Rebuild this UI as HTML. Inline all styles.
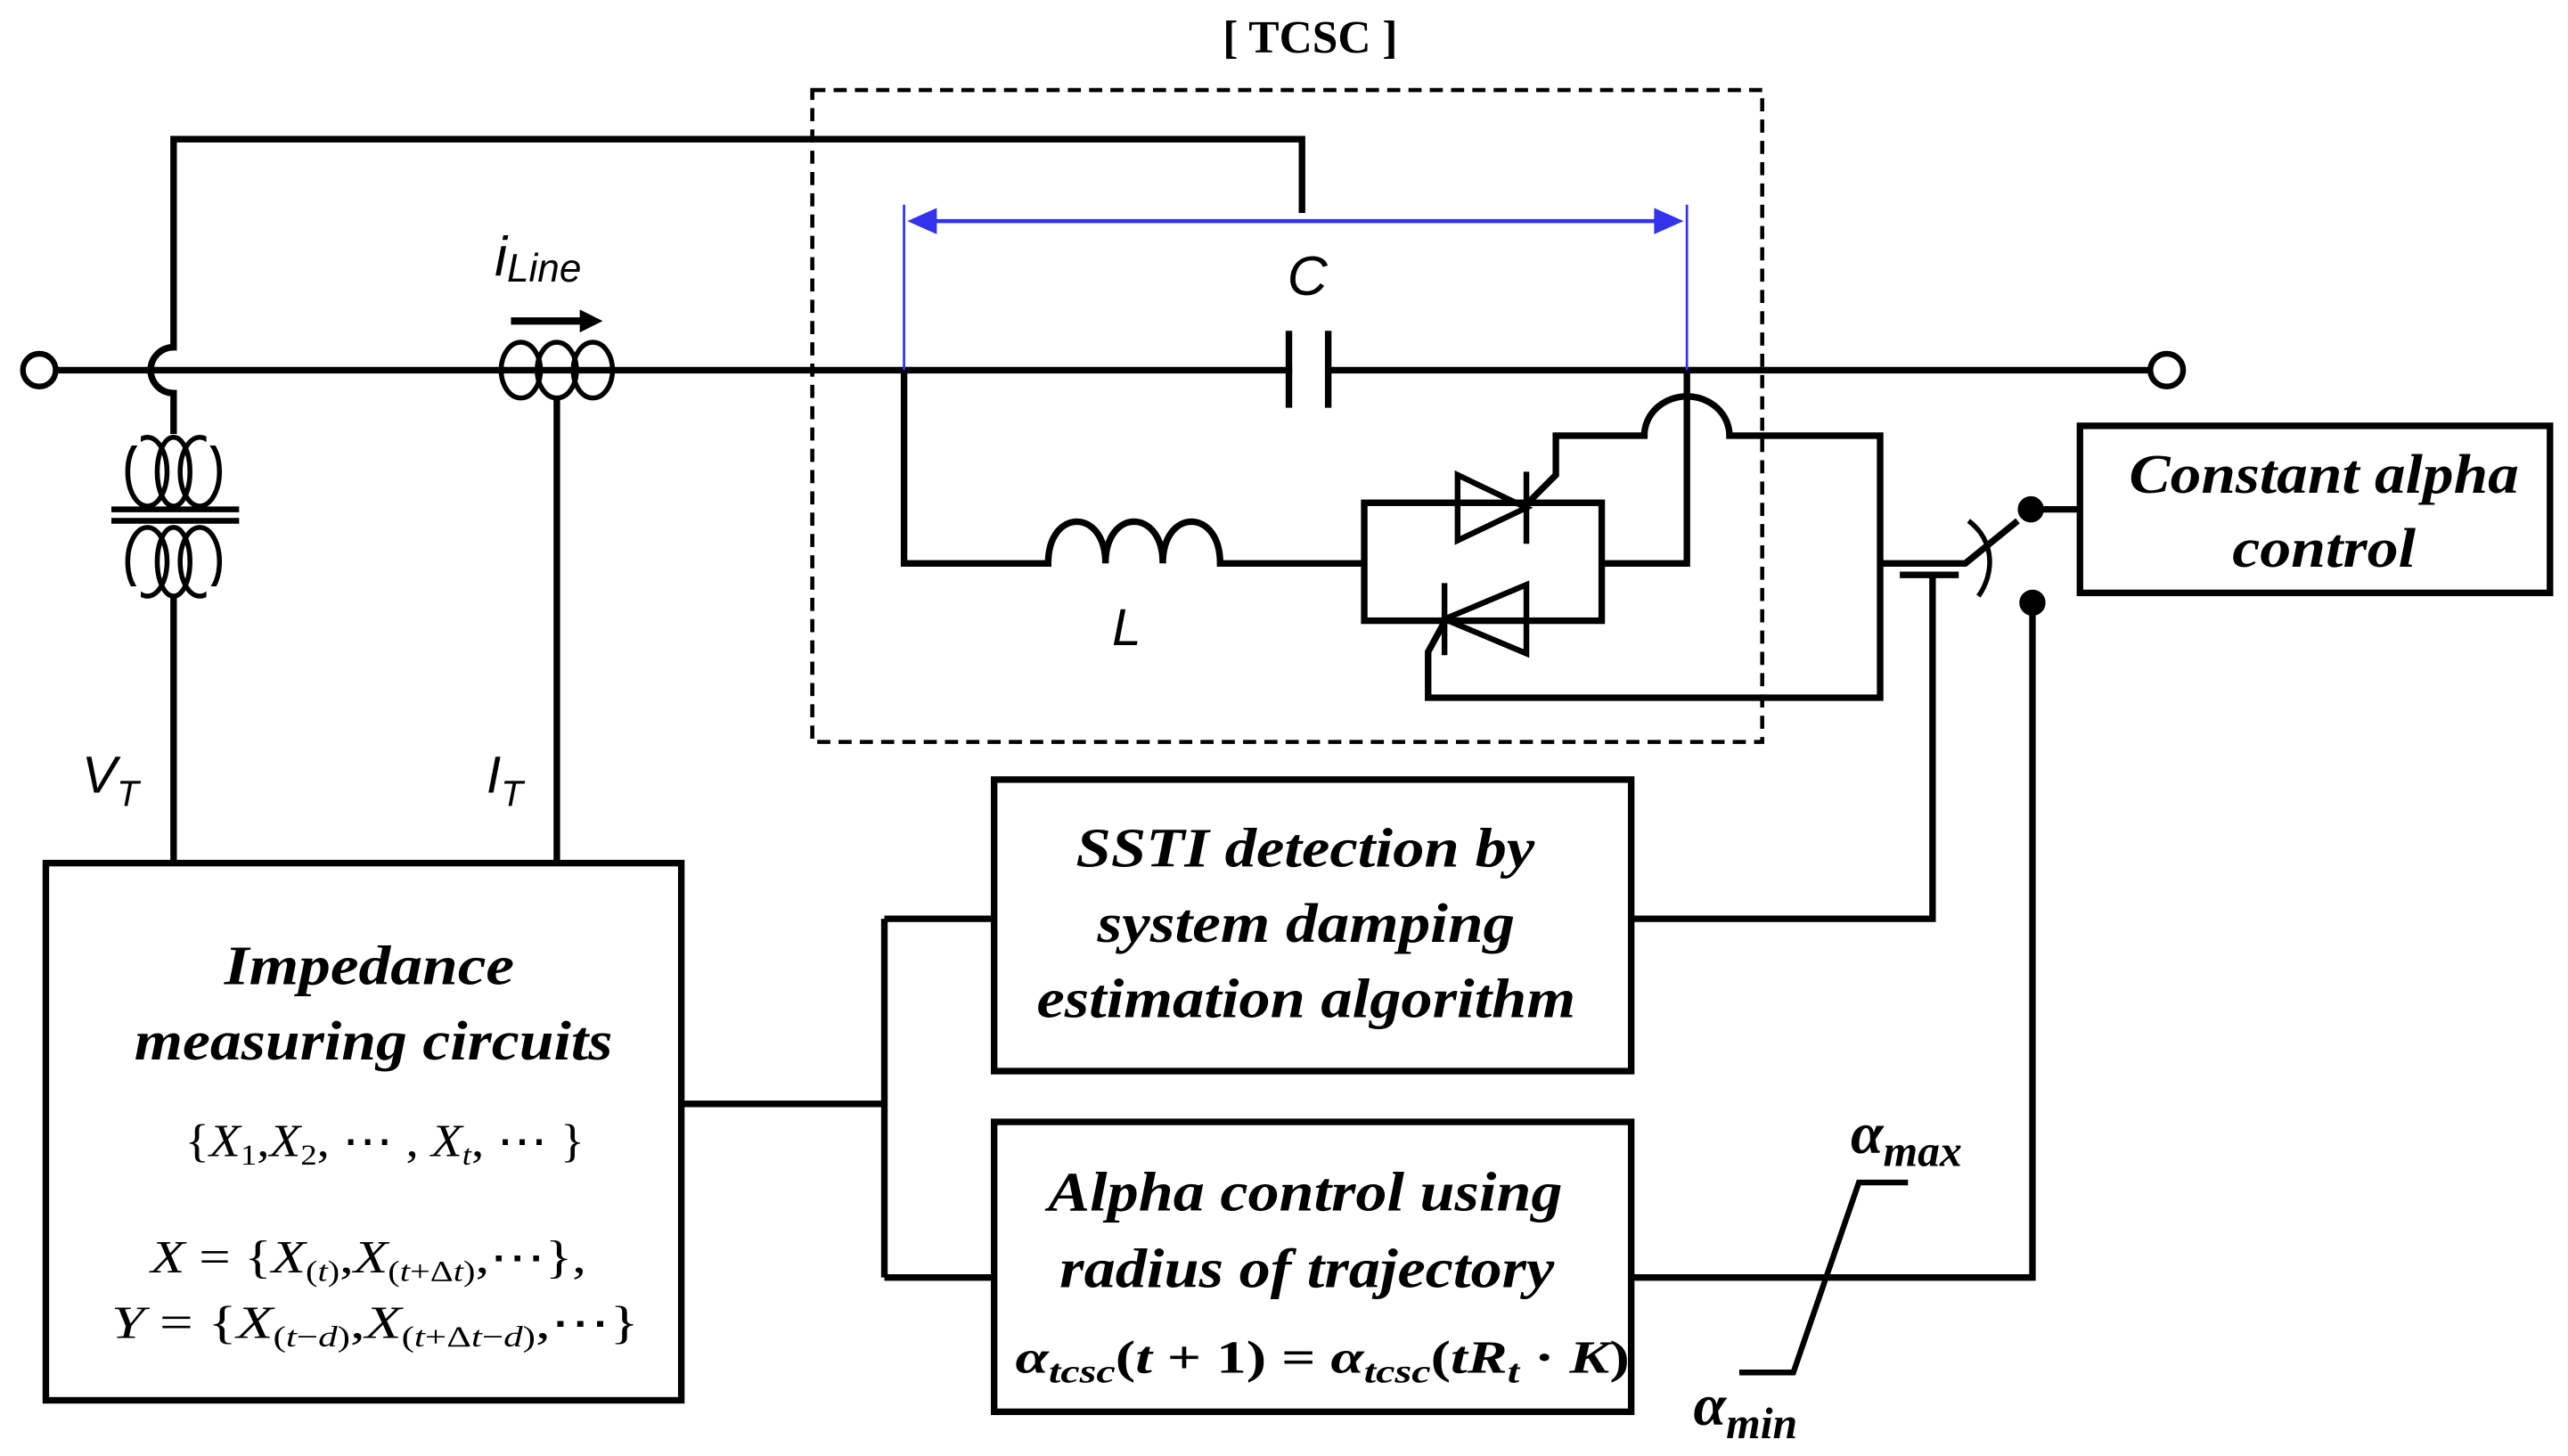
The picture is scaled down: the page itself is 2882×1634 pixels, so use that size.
<!DOCTYPE html>
<html><head><meta charset="utf-8"><style>
html,body{margin:0;padding:0;background:#fff;}
svg{display:block;}
.t{font-family:"Liberation Serif",serif;font-weight:bold;font-style:italic;fill:#000;}
.s{font-family:"Liberation Sans",sans-serif;font-style:italic;fill:#000;}
</style></head><body>
<svg width="2882" height="1634" viewBox="0 0 1568 889" xmlns="http://www.w3.org/2000/svg">
<g fill="none" stroke="#000" stroke-width="4">
<line x1="34" y1="226" x2="1313" y2="226"/>
<circle cx="24" cy="226" r="10" stroke-width="3.5"/>
<circle cx="1323" cy="226" r="10" stroke-width="3.5"/>
<path d="M795,130 V85 H106 V212 A14,14 0 0 0 106,240 V265"/>
<g stroke-width="3">
<ellipse cx="90" cy="288" rx="12" ry="21"/>
<ellipse cx="106" cy="288" rx="10" ry="21"/>
<ellipse cx="122" cy="288" rx="12" ry="21"/>
<ellipse cx="90" cy="343" rx="12" ry="21"/>
<ellipse cx="106" cy="343" rx="10" ry="21"/>
<ellipse cx="122" cy="343" rx="12" ry="21"/>
</g>
<rect x="74" y="262" width="12" height="10" fill="#fff" stroke="none"/>
<rect x="126" y="262" width="12" height="10" fill="#fff" stroke="none"/>
<rect x="74" y="358" width="12" height="10" fill="#fff" stroke="none"/>
<rect x="126" y="358" width="12" height="10" fill="#fff" stroke="none"/>
<line x1="68" y1="311" x2="146" y2="311" stroke-width="3.5"/>
<line x1="68" y1="318" x2="146" y2="318" stroke-width="3.5"/>
<line x1="106" y1="364" x2="106" y2="527"/>
<g stroke-width="3">
<ellipse cx="318" cy="226" rx="12" ry="17"/>
<ellipse cx="340" cy="226" rx="12" ry="17"/>
<ellipse cx="362" cy="226" rx="12" ry="17"/>
</g>
<line x1="340" y1="243" x2="340" y2="527"/>
<rect x="496" y="55" width="580" height="398" stroke-width="2.5" stroke-dasharray="8,5"/>
<rect x="789" y="220" width="20" height="12" fill="#fff" stroke="none"/>
<line x1="787" y1="202" x2="787" y2="249"/>
<line x1="811" y1="202" x2="811" y2="249"/>
<path d="M552,226 V344 H640 C640,310 675,310 675,344 C675,310 710,310 710,344 C710,310 745,310 745,344 H833"/>
<rect x="833" y="307" width="145" height="72"/>
<path d="M978,344 H1030 V226"/>
<g stroke-width="3.5">
<path d="M890,290 V330 L932,310 Z"/>
<line x1="932" y1="288" x2="932" y2="332"/>
<path d="M932,357 V399 L882,378 Z"/>
<line x1="882" y1="356" x2="882" y2="400"/>
</g>
<path d="M934,306 L950,290 V266 H1004 A26,24 0 0 1 1056,266 H1148 V426 H872 V398 L884,376"/>
<path d="M1148,344 H1200 L1232,318"/>
<circle cx="1240" cy="311" r="6" fill="#000"/>
<line x1="1240" y1="311" x2="1270" y2="311"/>
<circle cx="1241" cy="368" r="6" fill="#000"/>
<path d="M1241,368 V780 H997"/>
<path d="M1202,318 C1218,330 1218,350 1208,364" stroke-width="3"/>
<line x1="1160" y1="351" x2="1196" y2="351"/>
<path d="M1180,351 V561 H997"/>
<rect x="1270" y="260" width="287" height="102"/>
<rect x="607" y="476" width="389" height="178"/>
<rect x="607" y="685" width="389" height="177"/>
<rect x="28" y="527" width="388" height="328"/>
<path d="M416,674 H540 M540,561 V780 M540,561 H607 M540,780 H607"/>
<path d="M1062,838 H1095 L1135,722 H1165" stroke-width="3.5"/>
</g>
<g stroke="#3333ee" stroke-width="2.5" fill="#3333ee">
<line x1="552" y1="125" x2="552" y2="226" stroke-width="1.5"/>
<line x1="1030" y1="125" x2="1030" y2="226" stroke-width="1.5"/>
<line x1="565" y1="135" x2="1017" y2="135"/>
<path d="M554,135 L572,127 L572,143 Z" stroke="none"/>
<path d="M1028,135 L1010,127 L1010,143 Z" stroke="none"/>
</g>
<line x1="312" y1="196" x2="356" y2="196" stroke="#000" stroke-width="4.5"/>
<path d="M354,189 L368,196 L354,203 Z" fill="#000"/>
<text x="800" y="32" text-anchor="middle" font-family="Liberation Serif,serif" font-weight="bold" font-size="28">[ TCSC ]</text>
<text x="302" y="168" class="s" font-size="34">i<tspan font-size="24" dy="4">Line</tspan></text>
<text x="786" y="180" class="s" font-size="34">C</text>
<text x="679" y="394" class="s" font-size="32">L</text>
<text x="50" y="484" class="s" font-size="32">V<tspan font-size="22" dy="8">T</tspan></text>
<text x="297" y="484" class="s" font-size="32">I<tspan font-size="22" dy="8">T</tspan></text>
<g class="t" font-size="34" lengthAdjust="spacingAndGlyphs">
<text x="1300" y="301" textLength="238" lengthAdjust="spacingAndGlyphs">Constant alpha</text>
<text x="1363" y="346" textLength="112" lengthAdjust="spacingAndGlyphs">control</text>
<text x="657" y="529" textLength="280" lengthAdjust="spacingAndGlyphs">SSTI detection by</text>
<text x="670" y="575" textLength="255" lengthAdjust="spacingAndGlyphs">system damping</text>
<text x="633" y="621" textLength="329" lengthAdjust="spacingAndGlyphs">estimation algorithm</text>
<text x="640" y="739" textLength="314" lengthAdjust="spacingAndGlyphs">Alpha control using</text>
<text x="647" y="786" textLength="302" lengthAdjust="spacingAndGlyphs">radius of trajectory</text>
<text x="137" y="601" textLength="177" lengthAdjust="spacingAndGlyphs">Impedance</text>
<text x="82" y="647" textLength="292" lengthAdjust="spacingAndGlyphs">measuring circuits</text>
</g>
<g font-family="Liberation Serif,serif" font-size="28" fill="#000">
<text x="620" y="838" font-weight="bold" textLength="375" lengthAdjust="spacingAndGlyphs"><tspan font-style="italic">α</tspan><tspan font-size="20" dy="6" font-style="italic">tcsc</tspan><tspan dy="-6">(</tspan><tspan font-style="italic">t</tspan> + 1) = <tspan font-style="italic">α</tspan><tspan font-size="20" dy="6" font-style="italic">tcsc</tspan><tspan dy="-6">(</tspan><tspan font-style="italic">tR</tspan><tspan font-size="20" dy="6" font-style="italic">t</tspan><tspan dy="-6"> · </tspan><tspan font-style="italic">K</tspan>)</text>
<text x="113" y="706" textLength="244" lengthAdjust="spacingAndGlyphs">{<tspan font-style="italic">X</tspan><tspan font-size="18" dy="5">1</tspan><tspan dy="-5">,</tspan><tspan font-style="italic">X</tspan><tspan font-size="18" dy="5">2</tspan><tspan dy="-5">,  ⋯ , </tspan><tspan font-style="italic">X</tspan><tspan font-size="18" dy="5" font-style="italic">t</tspan><tspan dy="-5">,  ⋯ }</tspan></text>
<text x="92" y="777" textLength="266" lengthAdjust="spacingAndGlyphs"><tspan font-style="italic">X</tspan> = {<tspan font-style="italic">X</tspan><tspan font-size="18" dy="5">(<tspan font-style="italic">t</tspan>)</tspan><tspan dy="-5">,</tspan><tspan font-style="italic">X</tspan><tspan font-size="18" dy="5">(<tspan font-style="italic">t</tspan>+Δ<tspan font-style="italic">t</tspan>)</tspan><tspan dy="-5">,⋯},</tspan></text>
<text x="68" y="817" textLength="322" lengthAdjust="spacingAndGlyphs"><tspan font-style="italic">Y</tspan> = {<tspan font-style="italic">X</tspan><tspan font-size="18" dy="5">(<tspan font-style="italic">t</tspan>−<tspan font-style="italic">d</tspan>)</tspan><tspan dy="-5">,</tspan><tspan font-style="italic">X</tspan><tspan font-size="18" dy="5">(<tspan font-style="italic">t</tspan>+Δ<tspan font-style="italic">t</tspan>−<tspan font-style="italic">d</tspan>)</tspan><tspan dy="-5">,⋯}</tspan></text>
</g>
<g font-family="Liberation Serif,serif" font-weight="bold" font-style="italic" fill="#000">
<text x="1130" y="704" font-size="36">α<tspan font-size="27" dy="8">max</tspan></text>
<text x="1034" y="870" font-size="36">α<tspan font-size="27" dy="8">min</tspan></text>
</g>
</svg>
</body></html>
